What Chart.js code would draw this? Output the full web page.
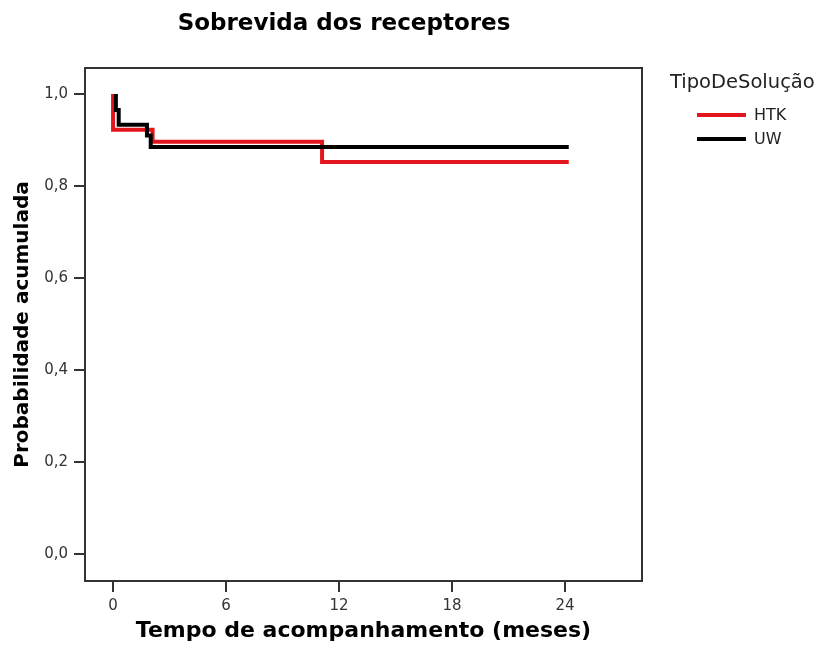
<!DOCTYPE html>
<html>
<head>
<meta charset="utf-8">
<title>Sobrevida dos receptores</title>
<script src="https://cdn.jsdelivr.net/npm/chart.js@4/dist/chart.umd.min.js"></script>
<style>
  html, body { margin: 0; padding: 0; background: #fff; }
  canvas { display: block; }
</style>
</head>
<body>
<canvas id="survivalChart" width="824" height="646"></canvas>
<script>
// Dados (Kaplan-Meier, pontos de cada degrau)
const htkTimes = [0, 0, 2.1, 11.1, 24.2];
const htkSurvival = [1.0, 0.922, 0.896, 0.852, 0.852];
const uwTimes = [0.15, 0.15, 0.3, 1.8, 2.0, 24.2];
const uwSurvival = [1.0, 0.965, 0.933, 0.91, 0.885, 0.885];

const seriesLabels = ['HTK', 'UW'];
const seriesColors = ['#e3161d', '#000000'];

const xTicks = [0, 6, 12, 18, 24];
const yTicks = [0, 0.2, 0.4, 0.6, 0.8, 1.0];

const chartTitle = 'Sobrevida dos receptores';
const legendTitle = 'TipoDeSolução';

function toPoints(xs, ys) {
    return xs.map(function(x, i) { return { x: x, y: ys[i] }; });
}

// Título, moldura e legenda desenhados à mão
const decorPlugin = {
    id: 'decor',
    afterDatasetsDraw: function(chart) {
        const ctx = chart.ctx;
        const area = chart.chartArea;
        ctx.save();
        ctx.strokeStyle = '#333';
        ctx.lineWidth = 2;
        ctx.strokeRect(area.left, area.top, area.right - area.left, area.bottom - area.top);
        ctx.restore();
    },
    afterDraw: function(chart) {
        const ctx = chart.ctx;
        ctx.save();
        ctx.fillStyle = '#000';
        ctx.font = 'bold 23px "DejaVu Sans"';
        ctx.textAlign = 'center';
        ctx.textBaseline = 'alphabetic';
        ctx.fillText(chartTitle, 344, 30);

        ctx.fillStyle = '#222';
        ctx.font = '19.5px "DejaVu Sans"';
        ctx.textAlign = 'left';
        ctx.fillText(legendTitle, 670, 88);

        const rows = [115, 139];
        chart.data.datasets.forEach(function(ds, i) {
            ctx.strokeStyle = ds.borderColor;
            ctx.lineWidth = 4;
            ctx.beginPath();
            ctx.moveTo(697, rows[i]);
            ctx.lineTo(746, rows[i]);
            ctx.stroke();
            ctx.fillStyle = '#222';
            ctx.font = '16px "DejaVu Sans"';
            ctx.textBaseline = 'middle';
            ctx.fillText(ds.label, 754, rows[i] + 1);
        });
        ctx.restore();
    }
};

Chart.defaults.font.family = '"DejaVu Sans"';
Chart.defaults.color = '#333';

new Chart(document.getElementById('survivalChart'), {
    type: 'line',
    data: {
        datasets: [{
            label: seriesLabels[0],
            data: toPoints(htkTimes, htkSurvival),
            borderColor: seriesColors[0],
            borderWidth: 4,
            stepped: true,
            pointRadius: 0,
            fill: false,
            order: 2
        }, {
            label: seriesLabels[1],
            data: toPoints(uwTimes, uwSurvival),
            borderColor: seriesColors[1],
            borderWidth: 4,
            stepped: true,
            pointRadius: 0,
            fill: false,
            order: 1
        }]
    },
    options: {
        responsive: false,
        animation: false,
        devicePixelRatio: 1,
        layout: { padding: { top: 68, right: 182, left: 0, bottom: 0 } },
        plugins: {
            legend: { display: false },
            title: { display: false },
            tooltip: { enabled: false }
        },
        scales: {
            x: {
                type: 'linear',
                min: -1.49,
                max: 28.09,
                afterBuildTicks: function(scale) {
                    scale.ticks = xTicks.map(function(v) { return { value: v }; });
                },
                afterFit: function(scale) { scale.height = 65; },
                grid: { drawOnChartArea: false, drawTicks: true, tickLength: 11, color: '#333', lineWidth: 2 },
                border: { display: false },
                ticks: { font: { size: 15 }, color: '#333', padding: 5, maxRotation: 0 },
                title: {
                    display: true,
                    text: 'Tempo de acompanhamento (meses)',
                    font: { size: 22, weight: 'bold' },
                    color: '#000',
                    padding: { top: 0, bottom: 2 }
                }
            },
            y: {
                type: 'linear',
                min: -0.0587,
                max: 1.0565,
                afterBuildTicks: function(scale) {
                    scale.ticks = yTicks.map(function(v) { return { value: v }; });
                },
                afterFit: function(scale) { scale.width = 85; },
                grid: { drawOnChartArea: false, drawTicks: true, tickLength: 11, color: '#333', lineWidth: 2 },
                border: { display: false },
                ticks: {
                    font: { size: 15 },
                    color: '#333',
                    padding: 6,
                    callback: function(v) { return v.toFixed(1).replace('.', ','); }
                },
                title: {
                    display: true,
                    text: 'Probabilidade acumulada',
                    font: { size: 20, weight: 'bold' },
                    color: '#000',
                    padding: { top: 11, bottom: 0 }
                }
            }
        }
    },
    plugins: [decorPlugin]
});
</script>
</body>
</html>
